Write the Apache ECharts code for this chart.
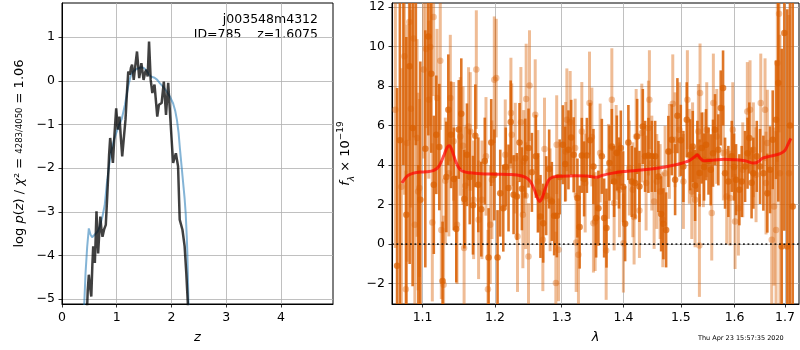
<!DOCTYPE html>
<html><head><meta charset="utf-8">
<script src="https://cdn.jsdelivr.net/npm/echarts@6/dist/echarts.min.js"></script>
<style>html,body{margin:0;padding:0;background:#fff}#c{width:800px;height:350px}</style>
</head><body><div id="c"></div>
<script>
// ---------- tick labels ----------
const zTicks = [0, 1, 2, 3, 4];
const logpTicks = [-5, -4, -3, -2, -1, 0, 1];
const lamTicks = [1.1, 1.2, 1.3, 1.4, 1.5, 1.6, 1.7];
const fluxTicks = [-2, 0, 2, 4, 6, 8, 10, 12];

// ---------- left panel: p(z) ----------
const zBlue = [0.40,0.43,0.46,0.49,0.52,0.55,0.60,0.65,0.69,0.74,0.78,0.82,0.86,0.90,0.95,0.99,1.04,1.09,1.15,1.21,1.26,1.31,1.36,1.45,1.50,1.54,1.58,1.62,1.69,1.74,1.79,1.85,1.91,1.97,2.03,2.07,2.10,2.13,2.15,2.18,2.21,2.24,2.26,2.28,2.29,2.30,2.31,2.33];
const logpBlue = [-5.3,-4.4,-3.8,-3.38,-3.52,-3.58,-3.52,-3.45,-3.34,-3.1,-2.85,-2.35,-1.95,-1.6,-1.35,-1.2,-1.02,-0.88,-0.55,-0.12,0.14,0.22,0.27,0.31,0.29,0.24,0.16,0.10,0.07,0.02,-0.06,-0.14,-0.24,-0.36,-0.52,-0.7,-0.9,-1.2,-1.5,-1.9,-2.3,-2.7,-3.05,-3.6,-3.95,-4.5,-5.1,-5.8];
const zDark = [0.45,0.47,0.49,0.51,0.535,0.555,0.57,0.585,0.60,0.615,0.63,0.645,0.66,0.68,0.70,0.72,0.74,0.77,0.80,0.82,0.84,0.86,0.88,0.905,0.93,0.96,0.99,1.02,1.05,1.075,1.10,1.13,1.16,1.185,1.21,1.24,1.26,1.28,1.31,1.34,1.37,1.41,1.45,1.49,1.52,1.54,1.565,1.59,1.62,1.65,1.69,1.74,1.77,1.82,1.86,1.90,1.94,1.98,2.01,2.03,2.08,2.12,2.15,2.20,2.24,2.27,2.30,2.32];
const logpDark = [-5.5,-4.8,-4.44,-4.7,-4.94,-4.2,-3.79,-4.0,-4.17,-3.6,-2.99,-3.5,-3.95,-3.5,-3.11,-3.4,-3.57,-3.4,-3.30,-2.8,-2.27,-1.7,-1.31,-1.6,-1.88,-1.2,-0.63,-1.12,-0.82,-1.3,-1.73,-1.3,-0.89,-0.3,0.21,0.14,0.3,0.37,0.02,0.35,0.67,0.06,0.40,0.02,0.2,0.25,0.1,0.90,0.02,-0.28,-0.09,-0.82,-0.55,-0.51,-0.02,-0.78,-0.05,-0.89,-1.5,-1.88,-1.66,-1.96,-3.18,-3.41,-3.79,-4.40,-5.13,-5.8];

// ---------- right panel: spectrum, beam A (dark) ----------
const lamA = [
1.0668,1.0704,1.0749,1.0787,1.0830,1.0869,1.0911,1.0944,1.0970,1.1036,
1.1076,1.1115,1.1149,1.1182,1.1223,1.1267,1.1318,1.1345,1.1382,1.1420,
1.1454,1.1488,1.1523,1.1565,1.1602,1.1641,1.1686,1.1719,1.1761,1.1803,
1.1853,1.1907,1.1945,1.1989,1.2036,1.2075,1.2119,1.2155,1.2196,1.2228,
1.2270,1.2319,1.2358,1.2393,1.2443,1.2492,1.2543,1.2603,1.2638,1.2673,
1.2714,1.2760,1.2806,1.2847,1.2883,1.2925,1.2968,1.3018,1.3055,1.3106,
1.3149,1.3188,1.3248,1.3283,1.3318,1.3355,1.3399,1.3452,1.3505,1.3549,
1.3586,1.3642,1.3680,1.3718,1.3767,1.3807,1.3845,1.3890,1.3925,1.3957,
1.3995,1.4029,1.4084,1.4142,1.4199,1.4233,1.4272,1.4330,1.4370,1.4427,
1.4486,1.4544,1.4601,1.4649,1.4689,1.4737,1.4777,1.4837,1.4897,1.4938,
1.4999,1.5046,1.5107,1.5167,1.5216,1.5259,1.5301,1.5341,1.5381,1.5424,
1.5461,1.5507,1.5548,1.5591,1.5629,1.5691,1.5736,1.5780,1.5818,1.5881,
1.5946,1.5990,1.6028,1.6092,1.6138,1.6203,1.6251,1.6286,1.6330,1.6365,
1.6432,1.6497,1.6563,1.6642,1.6696,1.6750,1.6817,1.6863,1.6932,1.6985,
1.7046,1.7101,1.7157];
const fluxA = [
-1.1,5.25,13.0,1.48,9.0,5.87,15.0,-4.0,2.24,4.82,
10.5,8.62,3.0,5.53,4.91,-1.86,3.4,6.8,5.53,3.3,
0.76,5.8,6.6,2.28,4.52,3.4,1.97,5.48,3.0,1.77,
4.2,-0.68,5.14,3.5,-0.68,2.58,1.82,3.9,2.84,6.18,
2.5,2.41,5.14,2.8,4.35,4.86,3.63,4.44,2.6,1.4,
1.06,2.45,3.8,2.16,1.43,1.43,3.4,5.03,4.05,4.77,
5.4,4.52,2.33,0.86,4.49,3.3,4.49,5.25,3.93,1.32,
1.82,4.44,1.32,0.81,4.1,4.94,3.17,4.61,3.6,4.86,
2.9,1.03,5.14,3.17,3.09,5.45,2.92,5.95,4.44,4.49,
4.44,4.44,3.42,1.53,1.03,0.72,4.69,5.28,3.26,6.5,
5.25,3.93,6.29,4.52,4.94,2.97,4.44,3.6,4.86,3.9,
5.03,4.2,3.76,4.6,5.79,4.77,6.89,7.9,3.59,3.17,
4.44,3.9,3.26,2.75,3.17,3.93,4.6,5.37,3.1,3.59,
4.44,3.93,3.59,2.58,3.76,5.28,6.29,8.15,-0.12,10.68,
-0.12,6.0,1.9];
const errA = [
9,10,9,9,10,8,10,8,7,6,
5,4,3.5,3,3.2,3,2.8,2.8,2.7,2.6,
2.7,2.5,2.8,2.5,2.6,2.4,2.5,2.6,2.4,2.4,
2.2,2.5,2.2,2.3,2.4,2.2,2.2,2.0,2.2,2.1,
2.0,2.2,2.0,2.1,2.0,2.0,2.0,2.1,2.0,2.1,
2.0,2.0,2.0,2.0,2.0,2.1,1.9,2.0,1.9,2.0,
1.9,1.9,2.0,2.1,1.9,1.9,1.9,1.9,1.9,2.0,
1.9,1.9,2.0,2.0,1.9,1.9,1.8,1.9,1.8,1.9,
1.8,1.9,1.9,1.8,1.8,1.9,1.8,1.9,1.8,1.9,
1.8,1.8,1.8,1.9,1.8,1.9,1.8,1.8,1.8,1.9,
1.8,1.8,1.9,1.8,1.8,1.8,1.8,1.7,1.8,1.7,
1.8,1.7,1.8,1.7,1.8,1.8,1.9,1.9,1.8,1.8,
1.8,1.7,1.8,1.8,1.8,1.8,1.8,1.8,1.8,1.8,
1.8,1.9,1.9,2.0,2.2,2.5,3,6,10,10,
12,12,12];

// ---------- right panel: spectrum, beam B (light) ----------
const lamB = [
1.0646,1.0723,1.0762,1.0781,1.0796,1.0826,1.0846,1.0882,1.0898,1.0927,
1.0941,1.0957,1.1014,1.1046,1.1082,1.1102,1.1129,1.1146,1.1192,1.1236,
1.1250,1.1281,1.1304,1.1352,1.1372,1.1417,1.1464,1.1509,1.1547,1.1562,
1.1579,1.1624,1.1648,1.1695,1.1733,1.1765,1.1813,1.1870,1.1898,1.1931,
1.1955,1.1989,1.2017,1.2148,1.2231,1.2243,1.2295,1.2328,1.2378,1.2408,
1.2420,1.2450,1.2457,1.2492,1.2507,1.2593,1.2633,1.2709,1.2734,1.2821,
1.2909,1.2922,1.2950,1.3062,1.3081,1.3133,1.3212,1.3228,1.3264,1.3318,
1.3372,1.3441,1.3480,1.3505,1.3533,1.3614,1.3713,1.3751,1.3807,1.3845,
1.3879,1.3934,1.4000,1.4101,1.4159,1.4181,1.4216,1.4272,1.4313,1.4387,
1.4427,1.4444,1.4486,1.4526,1.4573,1.4631,1.4679,1.4719,1.4795,1.4855,
1.4897,1.4974,1.5046,1.5118,1.5154,1.5198,1.5213,1.5259,1.5319,1.5338,
1.5350,1.5411,1.5474,1.5567,1.5597,1.5661,1.5786,1.5850,1.5913,1.5965,
1.6009,1.6073,1.6158,1.6247,1.6300,1.6365,1.6418,1.6511,1.6596,1.6616,
1.6642,1.6730,1.6776,1.6817,1.6843,1.6878,1.6897,1.7081];
const fluxB = [
6.8,2.9,9.5,-2.28,5.11,11.24,6.85,10.4,0.98,5.37,
2.66,2.84,8.83,9.87,7.31,9.97,1.1,11.49,7.39,9.28,
0.72,-2.06,3.2,3.59,7.39,5.2,0.98,5.45,4.98,-0.2,
2.95,5.95,5.7,2.24,8.83,1.23,2.24,4.44,-2.28,0.98,
3.26,8.32,8.4,4.52,6.63,5.53,4.35,0.38,6.16,1.48,
4.18,2.45,7.34,-0.63,8.02,6.55,3.17,0.22,4.81,2.24,
-1.97,5.03,-0.29,4.69,6.29,6.16,4.86,0.08,-0.54,5.7,
3.09,7.14,5.42,1.06,1.14,4.61,-0.32,3.68,7.31,2.08,
4.64,2.75,0.05,3.85,2.75,1.37,5.45,1.7,5.62,3.09,
5.87,7.31,4.1,2.16,3.17,2.66,1.23,3.59,4.69,7.1,
5.28,5.79,3.17,7.31,4.44,2.66,4.77,2.24,5.7,-0.07,
7.65,4.27,5.79,1.57,7.14,5.45,4.61,2.41,2.33,5.79,
1.14,1.82,3.76,6.71,6.8,4.77,3.51,7.14,6.8,3.09,
5.11,0.22,1.9,0.72,9.16,11.65,3.59,3.59];
const errB = [
7,6,7,6,6,6,5,5,5,5,
5,4.5,4.5,4,4,4,4,4,3.5,3.5,
3.5,3.5,3.2,3.2,3.2,3,3,3,3,3,
3,3,3,3,3,3,3,3,3,3,
3,3.2,3,2.8,2.8,2.6,2.8,2.8,2.8,2.7,
2.6,2.7,2.8,2.7,2.8,2.8,2.6,2.6,2.6,2.6,
2.6,2.5,2.6,2.5,2.6,2.6,2.5,2.5,2.6,2.5,
2.5,2.6,2.5,2.5,2.5,2.5,2.5,2.4,2.6,2.4,
2.4,2.4,2.5,2.4,2.4,2.4,2.4,2.4,2.5,2.4,
2.4,2.5,2.4,2.4,2.4,2.4,2.4,2.4,2.4,2.5,
2.4,2.4,2.4,2.5,2.4,2.4,2.4,2.4,2.4,2.6,
2.5,2.4,2.4,2.4,2.5,2.4,2.4,2.4,2.4,2.4,
2.4,2.4,2.4,2.5,2.5,2.4,2.4,2.5,2.6,2.6,
2.7,3.5,4,5,5,6,7,8];

// ---------- right panel: model ----------
const lamModel = [1.073,1.080,1.088,1.097,1.105,1.115,1.122,1.128,1.133,1.136,1.140,1.145,1.151,1.158,1.165,1.180,1.200,1.220,1.232,1.245,1.252,1.258,1.263,1.266,1.270,1.275,1.280,1.287,1.300,1.320,1.340,1.350,1.356,1.365,1.380,1.400,1.430,1.460,1.480,1.500,1.515,1.525,1.530,1.535,1.542,1.560,1.580,1.600,1.620,1.637,1.645,1.655,1.670,1.690,1.700,1.706,1.712];
const fluxModel = [3.09,3.45,3.59,3.65,3.66,3.73,3.95,4.45,4.9,4.98,4.7,4.15,3.76,3.64,3.61,3.56,3.54,3.52,3.50,3.38,3.17,2.75,2.30,2.16,2.35,2.85,3.25,3.40,3.44,3.46,3.45,3.40,3.38,3.48,3.58,3.67,3.75,3.85,3.95,4.08,4.22,4.42,4.52,4.35,4.22,4.25,4.30,4.27,4.22,4.10,4.15,4.35,4.45,4.58,4.75,5.05,5.35];

// ---------- build chart ----------
const FONT = 'DejaVu Sans';
const ORANGE = '217,95,2';
const minus = v => String(v).replace('-', '\u2212');
const zip2 = (a, b) => a.map((v, i) => [v, b[i]]);
const zip3 = (a, b, c) => a.map((v, i) => [v, b[i], c[i]]);

function axis(o, ticks, fmt) {
  return Object.assign({
    axisLine: { show: true, onZero: false, lineStyle: { color: '#000', width: 1 } },
    axisTick: { show: true, length: 3.5, customValues: ticks, lineStyle: { color: '#000', width: 0.8 } },
    splitLine: { show: true, lineStyle: { color: '#b0b0b0', width: 0.8 } },
    axisLabel: { customValues: ticks, formatter: fmt, color: '#000', fontSize: 12.5, fontFamily: FONT, margin: 7 },
    nameLocation: 'middle'
  }, o);
}

function errRender(color, width) {
  return function (params, api) {
    const x = api.value(0), y = api.value(1), e = api.value(2);
    const p1 = api.coord([x, y - e]);
    const p2 = api.coord([x, y + e]);
    return { type: 'line', shape: { x1: p1[0], y1: p1[1], x2: p2[0], y2: p2[1] },
             style: { stroke: color, lineWidth: width } };
  };
}

const chart = echarts.init(document.getElementById('c'), null, { renderer: 'canvas' });
chart.setOption({
  animation: false,
  backgroundColor: '#fff',
  textStyle: { fontFamily: FONT },
  grid: [
    { left: 62, top: 3, width: 271, height: 301, show: true, borderColor: '#000', borderWidth: 1, backgroundColor: 'transparent' },
    { left: 392, top: 3, width: 407, height: 301, show: true, borderColor: '#000', borderWidth: 1, backgroundColor: 'transparent' }
  ],
  xAxis: [
    axis({ type: 'value', gridIndex: 0, min: 0, max: 4.95, name: 'z', nameGap: 27,
      nameTextStyle: { fontStyle: 'italic', fontSize: 13, fontFamily: FONT, color: '#000' } }, zTicks, v => minus(v)),
    axis({ type: 'log', logBase: 10, gridIndex: 1, min: 1.0603, max: 1.7287, name: 'λ', nameGap: 27,
      nameTextStyle: { fontStyle: 'italic', fontSize: 13, fontFamily: FONT, color: '#000' } }, lamTicks, v => Number(v).toFixed(1))
  ],
  yAxis: [
    axis({ type: 'value', gridIndex: 0, min: -5.11, max: 1.78, nameGap: 36,
      name: '{t|log }{i|p}{t|(}{i|z}{t|) / }{i|χ}{t|² = }{f|4283/4050}{t| = 1.06}',
      nameTextStyle: { rich: {
        t: { fontSize: 13, fontFamily: FONT, color: '#000' },
        i: { fontSize: 13, fontFamily: FONT, fontStyle: 'italic', color: '#000' },
        f: { fontSize: 8.5, fontFamily: FONT, color: '#000' } } } }, logpTicks, v => minus(v)),
    axis({ type: 'value', gridIndex: 1, min: -3.03, max: 12.2, nameGap: 30,
      name: '{i|f}{s|λ}{t| × 10}{p|−19}',
      nameTextStyle: { rich: {
        t: { fontSize: 13, fontFamily: FONT, color: '#000', lineHeight: 20, verticalAlign: 'middle' },
        i: { fontSize: 13, fontFamily: FONT, fontStyle: 'italic', color: '#000', lineHeight: 20, verticalAlign: 'middle' },
        s: { fontSize: 9, fontFamily: FONT, fontStyle: 'italic', color: '#000', verticalAlign: 'bottom' },
        p: { fontSize: 9, fontFamily: FONT, color: '#000', verticalAlign: 'top' } } } }, fluxTicks, v => minus(v))
  ],
  graphic: [
    { type: 'text', right: 482, top: 13, style: { text: 'j003548m4312', font: '12.5px "DejaVu Sans"', fill: '#000' } },
    { type: 'text', right: 482, top: 28, style: { text: 'ID=785    z=1.6075', font: '12.5px "DejaVu Sans"', fill: '#000' } },
    { type: 'text', left: 698, top: 335, style: { text: 'Thu Apr 23 15:57:35 2020', font: '6.5px "DejaVu Sans"', fill: '#000' } }
  ],
  series: [
    { type: 'line', xAxisIndex: 0, yAxisIndex: 0, data: zip2(zBlue, logpBlue), showSymbol: false, clip: true,
      lineStyle: { color: 'rgba(31,119,180,0.55)', width: 2 }, z: 3 },
    { type: 'line', xAxisIndex: 0, yAxisIndex: 0, data: zip2(zDark, logpDark), showSymbol: false, clip: true,
      lineStyle: { color: 'rgba(0,0,0,0.75)', width: 2.5 }, z: 4 },
    { type: 'custom', xAxisIndex: 1, yAxisIndex: 1, data: zip3(lamB, fluxB, errB), clip: true,
      encode: { x: 0, y: 1 }, renderItem: errRender('rgba(' + ORANGE + ',0.42)', 3), z: 3 },
    { type: 'scatter', xAxisIndex: 1, yAxisIndex: 1, data: zip2(lamB, fluxB), symbolSize: 6.5, clip: true,
      itemStyle: { color: 'rgba(' + ORANGE + ',0.45)' }, z: 3 },
    { type: 'custom', xAxisIndex: 1, yAxisIndex: 1, data: zip3(lamA, fluxA, errA), clip: true,
      encode: { x: 0, y: 1 }, renderItem: errRender('rgba(' + ORANGE + ',0.85)', 2.6), z: 4 },
    { type: 'scatter', xAxisIndex: 1, yAxisIndex: 1, data: zip2(lamA, fluxA), symbolSize: 6.5, clip: true,
      itemStyle: { color: 'rgba(' + ORANGE + ',0.9)' }, z: 4 },
    { type: 'line', xAxisIndex: 1, yAxisIndex: 1, data: [[1.0603, 0], [1.7287, 0]], showSymbol: false,
      lineStyle: { color: 'rgba(0,0,0,0.8)', width: 1.8, type: [1.8, 2.7] }, z: 5 },
    { type: 'line', xAxisIndex: 1, yAxisIndex: 1, data: zip2(lamModel, fluxModel), showSymbol: false, smooth: 0.3,
      lineStyle: { color: 'rgba(255,0,0,0.7)', width: 3 }, z: 6 }
  ]
});
</script></body></html>
